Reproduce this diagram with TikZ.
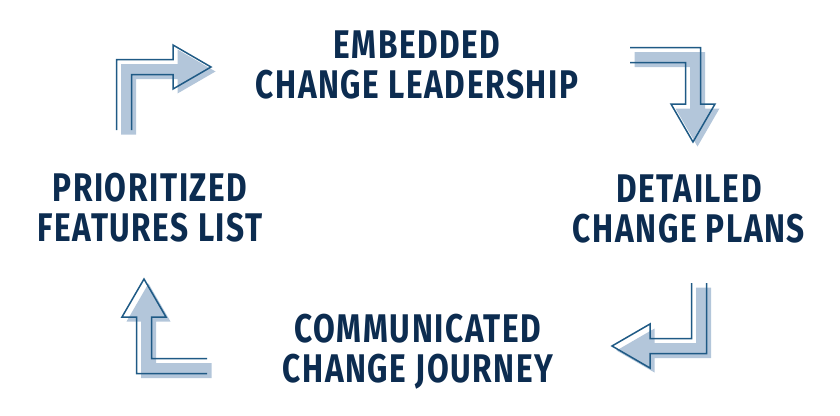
\documentclass[tikz,border=0pt]{standalone}
\usepackage{fontspec}
\usepackage{tikz}
\usetikzlibrary{calc}
\newfontfamily\stagefont{Fira Sans}[FakeStretch=0.79,LetterSpace=4]
\definecolor{navy}{HTML}{0C2C50}
\definecolor{steelline}{HTML}{1F5A85}
\definecolor{steelfill}{HTML}{B3C6DA}

\begin{document}
\begin{tikzpicture}[x=1pt,y=-1pt,
stage/.style ={font=\stagefont\bfseries\fontsize{40}{40}\selectfont,
text=navy, align=center, inner sep=0pt},
bendfill/.style ={fill=steelfill},
bendline/.style ={draw=steelline, line width=1.5pt},
bendarea/.pic ={\path[bendfill] (-7.5,63) -- (-7.5,-7.5) -- (49,-7.5) -- (49,-22)
  -- (87,0) -- (49,22) -- (49,7.5) -- (7.5,7.5) -- (7.5,63) -- cycle;},
bendedge/.pic ={\path[bendline] (-7.5,63) -- (-7.5,-7.5) -- (49,-7.5) -- (49,-22)
  -- (87,0) -- (49,22) -- (49,7.5) -- (7.5,7.5) -- (7.5,63);}]
\useasboundingbox (0,0) rectangle (840,415);
% stages
\node[stage] (embedded) at (417,65) {EMBEDDED\\CHANGE LEADERSHIP};
\node[stage] (detailed) at (689,208.5) {DETAILED\\CHANGE PLANS};
\node[stage] (communicated) at (418,351.5) {COMMUNICATED\\CHANGE JOURNEY};
\node[stage] (prioritized) at (150,208) {PRIORITIZED\\FEATURES LIST};
% bent arrows
\coordinate (bendTL) at (124,67);
\coordinate (bendTR) at (693,55);
\coordinate (bendBR) at (699,346);
\coordinate (bendBL) at (144,366);
\pic at ($(bendTL)+(4.5,4.5)$) {bendarea};
\pic at (bendTL) {bendedge};
\pic[rotate=-90] at ($(bendTR)+(4.5,4.5)$) {bendarea};
\pic[rotate=-90] at (bendTR) {bendedge};
\pic[rotate=180] at ($(bendBR)+(4.5,4.5)$) {bendarea};
\pic[rotate=180] at (bendBR) {bendedge};
\pic[rotate=90] at ($(bendBL)+(4.5,4.5)$) {bendarea};
\pic[rotate=90] at (bendBL) {bendedge};
\end{tikzpicture}
\end{document}
